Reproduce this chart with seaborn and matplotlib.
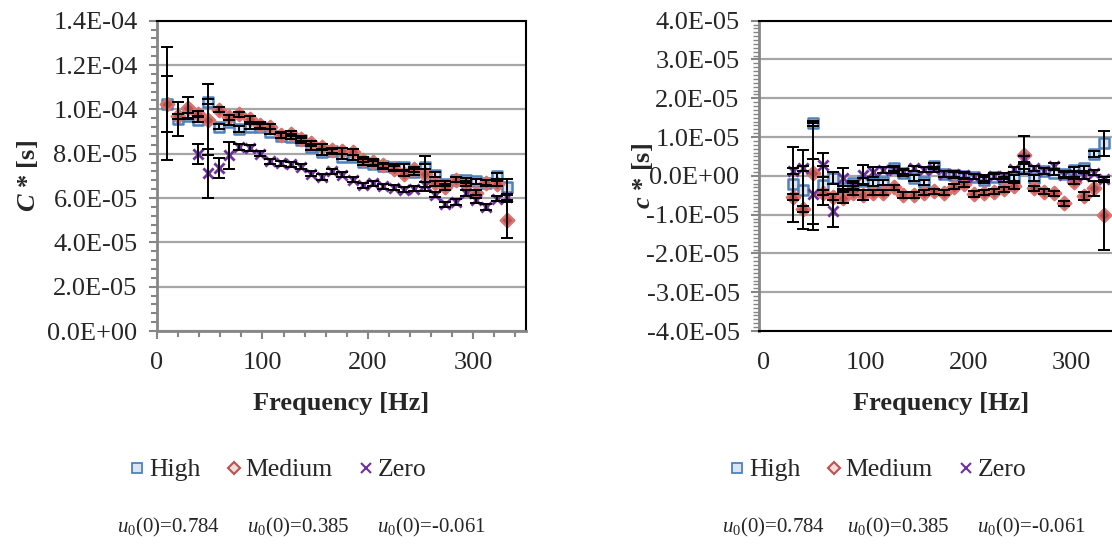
import numpy as np
import pandas as pd
import matplotlib
matplotlib.use("Agg")
import matplotlib.pyplot as plt
import seaborn as sns
from matplotlib.ticker import MultipleLocator, FuncFormatter
from matplotlib.lines import Line2D

# ---------------- data ----------------
freq = [9.8, 19.5, 29.3, 39.1, 48.8, 58.6, 68.4, 78.1, 87.9, 97.7, 107.4, 117.2,
        127.0, 136.7, 146.5, 156.3, 166.0, 175.8, 185.5, 195.3, 205.1, 214.8, 224.6,
        234.4, 244.1, 253.9, 263.7, 273.4, 283.2, 293.0, 302.7, 312.5, 322.3, 332.0]

SCALE = 1e-5  # values below are in units of 1e-5 s

# Left panel: C* (all 34 frequencies for High/Medium, Zero from 4th)
C_high = [10.25, 9.57, 9.72, 9.53, 10.35, 9.22, 9.42, 9.12, 9.22, 9.22, 9.00, 8.82,
          8.77, 8.60, 8.30, 8.07, 8.10, 7.87, 7.84, 7.62, 7.55, 7.43, 7.40, 7.40,
          7.17, 7.42, 7.06, 6.65, 6.83, 6.80, 6.75, 6.68, 6.99, 6.50]
C_high_err = [2.55, 0.75, 0.12, 0.12, 0.12, 0.12, 0.12, 0.12, 0.12, 0.12, 0.12, 0.12,
              0.12, 0.12, 0.12, 0.12, 0.12, 0.12, 0.12, 0.12, 0.12, 0.12, 0.12, 0.12,
              0.12, 0.12, 0.12, 0.12, 0.12, 0.12, 0.12, 0.12, 0.12, 0.35]
C_med = [10.25, 9.68, 10.05, 9.80, 9.53, 9.99, 9.64, 9.77, 9.57, 9.30, 9.22, 8.85,
         8.90, 8.67, 8.47, 8.30, 8.15, 8.12, 8.07, 7.73, 7.62, 7.47, 7.32, 7.10,
         7.29, 7.10, 6.67, 6.50, 6.83, 6.65, 6.24, 6.69, 6.65, 5.00]
C_med_err = [1.27, 0.12, 0.50, 0.12, 1.60, 0.12, 0.12, 0.12, 0.12, 0.12, 0.12, 0.12,
             0.12, 0.12, 0.12, 0.12, 0.12, 0.12, 0.12, 0.12, 0.12, 0.12, 0.12, 0.12,
             0.12, 0.80, 0.12, 0.12, 0.12, 0.12, 0.12, 0.12, 0.12, 0.80]
freq_zero_left = freq[3:]
C_zero = [7.97, 7.12, 7.35, 7.92, 8.30, 8.25, 8.00, 7.66, 7.57, 7.52, 7.41, 7.10,
          6.95, 7.21, 7.05, 6.83, 6.57, 6.67, 6.52, 6.46, 6.38, 6.42, 6.60, 6.15,
          5.71, 5.82, 6.22, 5.90, 5.59, 5.97, 6.04]
C_zero_err = [0.45, 1.10, 0.45, 0.60, 0.12, 0.12, 0.12, 0.12, 0.12, 0.12, 0.12, 0.12,
              0.12, 0.12, 0.12, 0.12, 0.12, 0.12, 0.12, 0.12, 0.12, 0.12, 0.12, 0.12,
              0.12, 0.12, 0.12, 0.12, 0.12, 0.12, 0.12]

# Right panel: c* (from 3rd frequency)
freq_right = freq[2:]
c_high = [-0.22, -0.36, 1.35, -0.24, -0.05, -0.32, -0.19, -0.13, -0.18, -0.17, 0.19,
          0.07, -0.06, -0.17, 0.25, 0.05, 0.02, 0.00, -0.02, -0.11, -0.02, -0.09,
          -0.06, 0.24, -0.06, 0.13, 0.08, 0.05, 0.16, 0.19, 0.56, 0.84]
c_high_err = [0.97, 1.02, 0.07, 0.50, 0.16, 0.07, 0.07, 0.07, 0.07, 0.07, 0.07,
              0.07, 0.07, 0.07, 0.07, 0.07, 0.07, 0.07, 0.07, 0.07, 0.07, 0.07,
              0.07, 0.07, 0.07, 0.07, 0.07, 0.07, 0.07, 0.07, 0.07, 0.32]
c_med = [-0.54, -0.86, 0.07, -0.43, -0.54, -0.56, -0.43, -0.49, -0.43, -0.43, -0.30,
         -0.49, -0.49, -0.43, -0.40, -0.43, -0.28, -0.22, -0.47, -0.43, -0.41, -0.35,
         -0.26, 0.54, -0.32, -0.41, -0.45, -0.71, -0.15, -0.51, -0.32, -1.01]
c_med_err = [0.07, 0.07, 1.30, 0.07, 0.07, 0.15, 0.07, 0.13, 0.07, 0.07, 0.07,
             0.07, 0.07, 0.07, 0.07, 0.07, 0.07, 0.07, 0.07, 0.07, 0.07, 0.07,
             0.07, 0.50, 0.07, 0.07, 0.07, 0.07, 0.07, 0.10, 0.20, 0.90]
c_zero = [0.13, 0.19, -0.48, 0.28, -0.90, -0.06, -0.26, 0.02, 0.11, 0.15, 0.15,
          0.11, 0.19, 0.16, 0.17, 0.05, 0.05, 0.02, -0.02, -0.06, 0.00, 0.00,
          0.17, 0.43, 0.19, 0.13, 0.25, 0.02, 0.05, 0.00, 0.08, -0.09]
c_zero_err = [0.07, 0.07, 0.92, 0.30, 0.43, 0.27, 0.07, 0.26, 0.13, 0.07, 0.07,
              0.07, 0.07, 0.07, 0.07, 0.07, 0.07, 0.07, 0.07, 0.07, 0.07, 0.07,
              0.07, 0.07, 0.07, 0.07, 0.07, 0.07, 0.07, 0.07, 0.07, 0.07]

series_names = ["High", "Medium", "Zero"]
u0_labels = ["0.784", "0.385", "-0.061"]

# ---------------- style ----------------
sns.set_theme(style="white")
plt.rcParams["font.family"] = ["Liberation Serif", "DejaVu Serif"]
plt.rcParams["mathtext.fontset"] = "custom"
plt.rcParams["mathtext.rm"] = "Liberation Serif"
plt.rcParams["mathtext.it"] = "Liberation Serif:italic"
plt.rcParams["mathtext.bf"] = "Liberation Serif:bold"
plt.rcParams["mathtext.bfit"] = "Liberation Serif:italic:bold"

GREY = "#868686"
GRID = "#a6a6a6"
TICK_FS = 19
LAB_FS = 19
styles = {
    "High": dict(marker="s", s=56, facecolor="#dbe5f1", edgecolor="#4f81bd", linewidth=1.8),
    "Medium": dict(marker="D", s=46, facecolor="#c0504d", edgecolor="#d9736f", linewidth=1.8),
    "Zero": dict(marker="x", s=54, color="#7030a0", linewidth=2.0),
}

W, H = 1112, 548
fig = plt.figure(figsize=(W / 100, H / 100), dpi=100)
fig.patch.set_facecolor("white")
axL = fig.add_axes([157 / W, (H - 331) / H, 369 / W, 310.3 / H])
axR = fig.add_axes([759 / W, (H - 331) / H, 363.5 / W, 310.3 / H])


def draw(ax, f, vals, errs, name):
    df = pd.DataFrame({"Frequency": f, "value": np.array(vals) * SCALE})
    sns.scatterplot(data=df, x="Frequency", y="value", ax=ax, legend=False,
                    zorder=3, **styles[name])
    ax.errorbar(df["Frequency"], df["value"], yerr=np.array(errs) * SCALE,
                fmt="none", ecolor="black", elinewidth=1.4, capsize=4,
                capthick=1.4, zorder=4)


draw(axL, freq, C_high, C_high_err, "High")
draw(axL, freq, C_med, C_med_err, "Medium")
draw(axL, freq_zero_left, C_zero, C_zero_err, "Zero")

draw(axR, freq_right, c_high, c_high_err, "High")
draw(axR, freq_right, c_med, c_med_err, "Medium")
draw(axR, freq_right, c_zero, c_zero_err, "Zero")

fmt = FuncFormatter(lambda v, p: f"{v:.1E}")

# Left axes
axL.set_xlim(0, 350)
axL.set_ylim(0, 1.4e-4)
axL.yaxis.set_major_locator(MultipleLocator(2e-5))
axL.yaxis.set_minor_locator(MultipleLocator(4e-6))
axL.xaxis.set_major_locator(MultipleLocator(100))
axL.xaxis.set_minor_locator(MultipleLocator(20))
axL.xaxis.set_major_formatter(FuncFormatter(lambda v, p: f"{v:.0f}" if v <= 300 else ""))
axL.tick_params(axis="x", which="major", length=6, width=1.5, color=GREY, pad=9,
                labelsize=TICK_FS, direction="out", bottom=True)
axL.tick_params(axis="x", which="minor", length=4, width=1.5, color=GREY,
                direction="out", bottom=True)
axL.tick_params(axis="y", which="major", length=6, width=1.5, color=GREY, pad=8,
                labelsize=TICK_FS, direction="out", left=True)
axL.tick_params(axis="y", which="minor", length=4, width=1.5, color=GREY,
                direction="out", left=True)
for sp in ["left", "bottom"]:
    axL.spines[sp].set_color(GREY)
    axL.spines[sp].set_linewidth(2)
for sp in ["top", "right"]:
    axL.spines[sp].set_color("black")
    axL.spines[sp].set_linewidth(1.5)

# Right axes
axR.set_xlim(-4, 350)
axR.set_ylim(-4e-5, 4e-5)
axR.yaxis.set_major_locator(MultipleLocator(1e-5))
axR.yaxis.set_minor_locator(MultipleLocator(1e-6))
axR.xaxis.set_major_locator(MultipleLocator(100))
axR.xaxis.set_major_formatter(FuncFormatter(lambda v, p: f"{v:.0f}" if 0 <= v <= 300 else ""))
axR.tick_params(axis="x", which="both", length=0, pad=15, labelsize=TICK_FS, bottom=True)
axR.tick_params(axis="y", which="major", length=6, width=1.5, color=GREY, pad=8,
                labelsize=TICK_FS, direction="out", left=True)
axR.tick_params(axis="y", which="minor", length=4, width=1.0, color=GREY,
                direction="out", left=True)
axR.spines["left"].set_color(GREY)
axR.spines["left"].set_linewidth(2)
for sp in ["top", "right", "bottom"]:
    axR.spines[sp].set_color("black")
    axR.spines[sp].set_linewidth(1.5)

for ax in (axL, axR):
    ax.yaxis.set_major_formatter(fmt)
    ax.set_facecolor("white")
    ax.grid(False)
    ax.yaxis.grid(True, which="major", color=GRID, linewidth=1.6, zorder=0)
    ax.set_axisbelow(True)
    ax.set_xlabel("Frequency [Hz]", fontsize=LAB_FS, fontweight="bold")
    ax.xaxis.set_label_coords(0.5, -0.195)

axL.set_ylabel(r"$\mathbfit{C}$ * [s]", fontsize=LAB_FS, fontweight="bold")
axL.yaxis.set_label_coords(-0.317, 0.5)
axR.set_ylabel(r"$\mathbfit{c}$ * [s]", fontsize=LAB_FS, fontweight="bold")
axR.yaxis.set_label_coords(-0.285, 0.5)

# Legends
handles = [
    Line2D([], [], linestyle="none", marker="s", markersize=7.5, markerfacecolor="#dbe5f1",
           markeredgecolor="#4f81bd", markeredgewidth=1.3),
    Line2D([], [], linestyle="none", marker="D", markersize=6.5, markerfacecolor="#f2dcdb",
           markeredgecolor="#c0504d", markeredgewidth=1.5),
    Line2D([], [], linestyle="none", marker="x", markersize=7.5, markeredgecolor="#7030a0",
           markeredgewidth=1.5),
]
for cx in (278, 878):
    fig.legend(handles, series_names, loc="center", bbox_to_anchor=(cx / W, 1 - 470 / H),
               ncol=3, frameon=False, fontsize=18.5, handlelength=0.6,
               handletextpad=0.15, columnspacing=1.0)

for xs in ([117, 247, 377], [722, 847, 977]):
    for x0, lab in zip(xs, u0_labels):
        fig.text(x0 / W, 1 - 527 / H, r"$u_0$(0)=" + lab, fontsize=15,
                 ha="left", va="center")

fig.savefig("out.png", dpi=100, facecolor="white")
